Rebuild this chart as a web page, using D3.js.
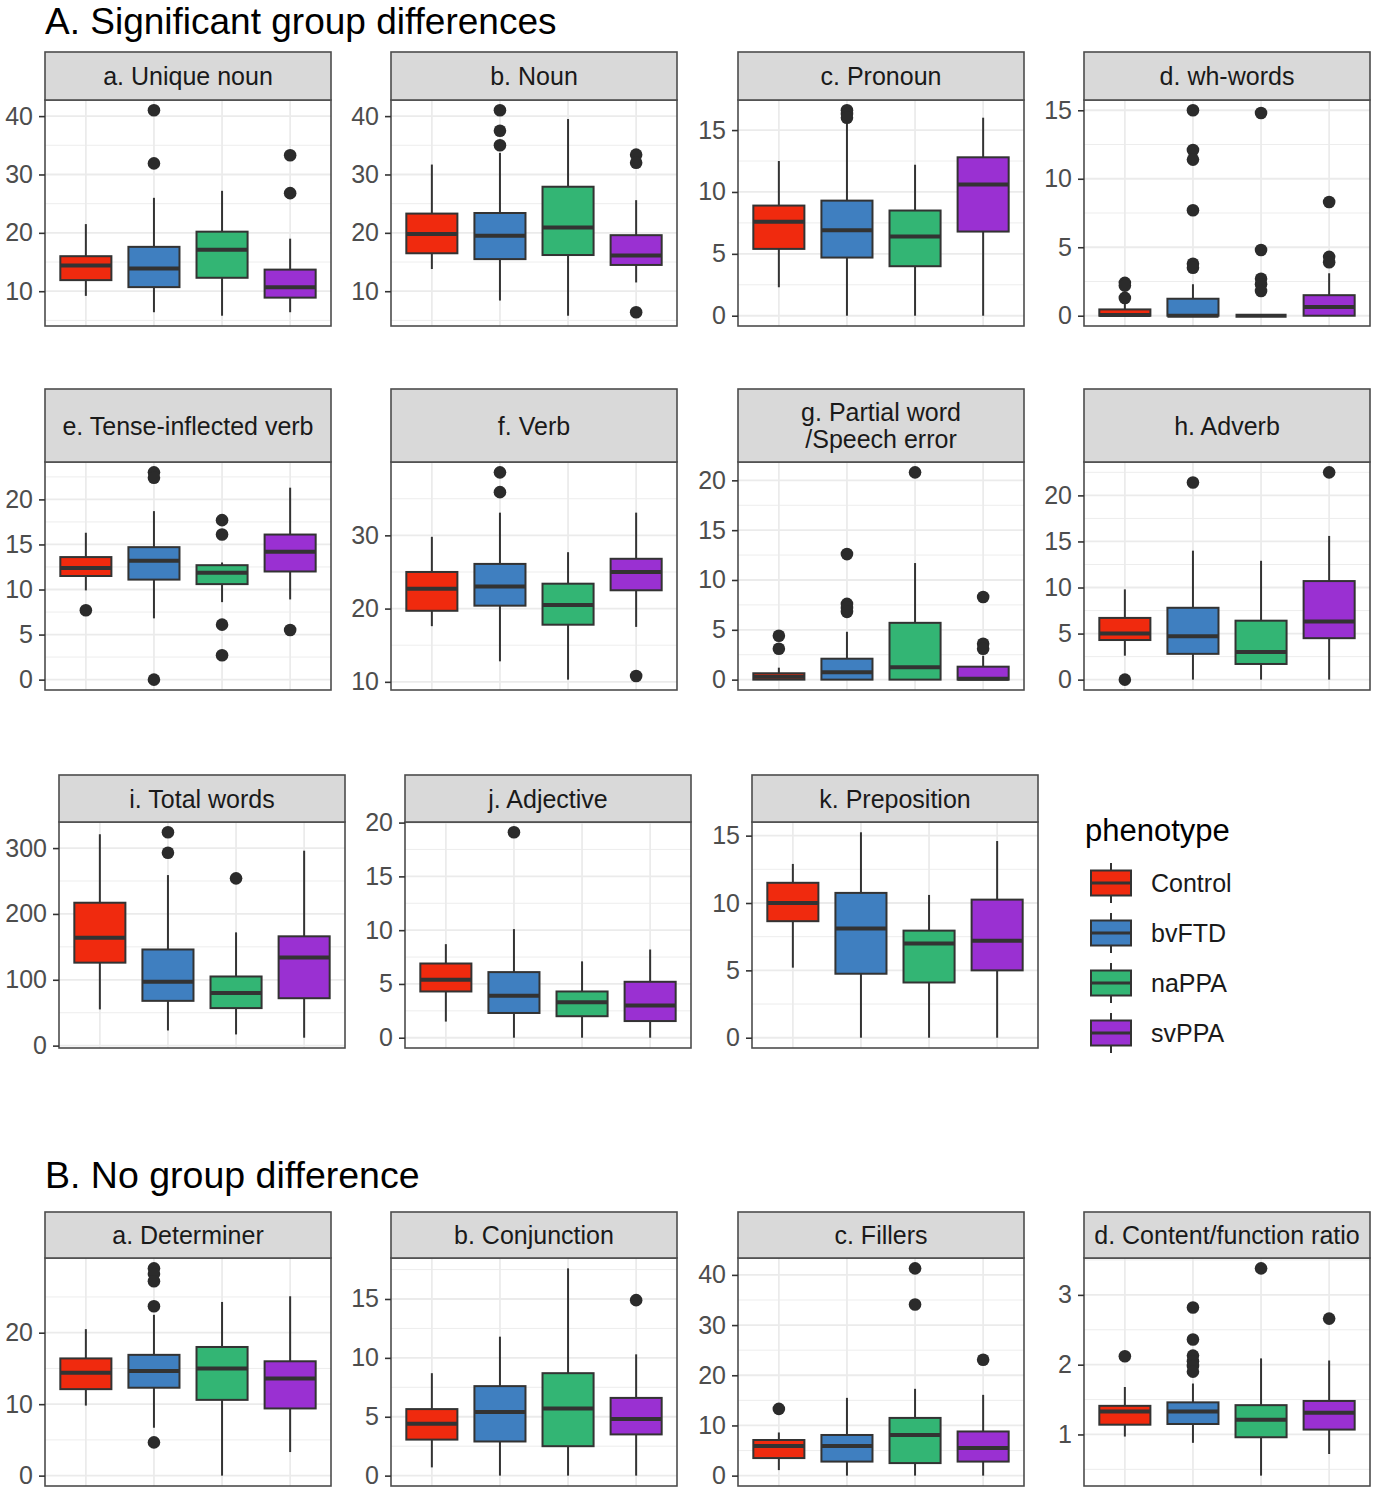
<!DOCTYPE html>
<html><head><meta charset="utf-8">
<script src="https://cdn.jsdelivr.net/npm/d3@7"></script>
<style>
body{margin:0;background:#fff;}
text{font-family:"Liberation Sans", Arial, Helvetica, sans-serif;}
</style>
</head><body>
<svg id="chart" width="1387" height="1500"></svg>
<script>
// ---------- DATA ----------
const groups = ["Control", "bvFTD", "naPPA", "svPPA"];
const groupColors = ["#f02a0e", "#3f7fc0", "#33b574", "#9a30d2"];
const sectionTitles = ["A. Significant group differences", "B. No group difference"];
const legendTitle = "phenotype";

// five-number boxes per group: [lower whisker, Q1, median, Q3, upper whisker]
const uniqueNounBox = [[9.2, 11.9, 14.4, 16.0, 21.5], [6.4, 10.7, 13.9, 17.6, 26.0], [5.8, 12.3, 17.1, 20.2, 27.2], [6.4, 8.9, 10.7, 13.7, 19.0]];
const uniqueNounOut = [[], [41.0, 31.9], [], [33.3, 26.8]];
const uniqueNounTicks = [10, 20, 30, 40];

const nounBox = [[13.8, 16.5, 19.8, 23.3, 31.7], [8.4, 15.5, 19.5, 23.4, 33.7], [5.8, 16.2, 20.9, 27.9, 39.5], [11.5, 14.5, 16.1, 19.6, 25.6]];
const nounOut = [[], [41.0, 37.5, 35.0], [], [33.4, 32.0, 6.4]];
const nounTicks = [10, 20, 30, 40];

const pronounBox = [[2.3, 5.4, 7.6, 8.9, 12.5], [0, 4.7, 6.9, 9.3, 15.8], [0, 4.0, 6.4, 8.5, 12.2], [0, 6.8, 10.6, 12.8, 16.0]];
const pronounOut = [[], [16.6, 16.3, 16.0], [], []];
const pronounTicks = [0, 5, 10, 15];

const whWordsBox = [[0, 0, 0.05, 0.46, 1.0], [0, 0, 0, 1.24, 2.3], [0, 0, 0, 0, 0], [0, 0, 0.63, 1.5, 3.1]];
const whWordsOut = [[2.4, 2.2, 1.3], [15.0, 12.1, 11.4, 7.7, 3.8, 3.5], [14.8, 4.8, 2.7, 2.3, 1.8], [8.3, 4.3, 3.9]];
const whWordsTicks = [0, 5, 10, 15];

const tenseVerbBox = [[9.9, 11.5, 12.4, 13.6, 16.3], [6.8, 11.1, 13.2, 14.7, 18.7], [8.6, 10.6, 11.85, 12.7, 13.0], [8.9, 12.0, 14.2, 16.1, 21.3]];
const tenseVerbOut = [[7.7], [23.0, 22.4, 0], [17.7, 16.1, 6.1, 2.7], [5.5]];
const tenseVerbTicks = [0, 5, 10, 15, 20];

const verbBox = [[17.6, 19.7, 22.7, 25.0, 29.8], [12.8, 20.4, 23.0, 26.1, 33.1], [10.3, 17.8, 20.5, 23.4, 27.7], [17.5, 22.5, 25.0, 26.8, 33.1]];
const verbOut = [[], [38.6, 35.9], [], [10.8]];
const verbTicks = [10, 20, 30];

const partialWordBox = [[0, 0, 0.3, 0.64, 1.2], [0, 0, 0.74, 2.1, 4.8], [0, 0, 1.25, 5.7, 11.7], [0, 0, 0.1, 1.3, 2.4]];
const partialWordOut = [[4.4, 3.1], [12.6, 7.6, 7.2, 6.8], [20.8], [8.3, 3.6, 3.1]];
const partialWordTicks = [0, 5, 10, 15, 20];

const adverbBox = [[2.6, 4.3, 5.0, 6.7, 9.8], [0, 2.8, 4.7, 7.8, 14.0], [0, 1.7, 3.0, 6.4, 12.9], [0, 4.5, 6.3, 10.7, 15.6]];
const adverbOut = [[0], [21.4], [], [22.5]];
const adverbTicks = [0, 5, 10, 15, 20];

const totalWordsBox = [[55, 126, 164, 217, 321], [23, 68, 97, 146, 259], [17, 57, 80, 105, 172], [12, 72, 134, 166, 296]];
const totalWordsOut = [[], [324, 293], [254], []];
const totalWordsTicks = [0, 100, 200, 300];

const adjectiveBox = [[1.5, 4.3, 5.4, 6.9, 8.7], [0, 2.3, 3.9, 6.1, 10.1], [0, 2.0, 3.3, 4.3, 7.1], [0, 1.55, 3.0, 5.2, 8.2]];
const adjectiveOut = [[], [19.1], [], []];
const adjectiveTicks = [0, 5, 10, 15, 20];

const prepositionBox = [[5.2, 8.65, 10.0, 11.5, 12.9], [0, 4.75, 8.1, 10.75, 15.25], [0, 4.1, 7.0, 7.95, 10.6], [0, 5.0, 7.2, 10.25, 14.6]];
const prepositionOut = [[], [], [], []];
const prepositionTicks = [0, 5, 10, 15];

const determinerBox = [[9.8, 12.1, 14.4, 16.4, 20.5], [6.7, 12.3, 14.65, 16.9, 22.5], [0, 10.6, 15.0, 18.0, 24.3], [3.3, 9.4, 13.6, 16.0, 25.1]];
const determinerOut = [[], [29.0, 28.2, 27.2, 23.7, 4.65], [], []];
const determinerTicks = [0, 10, 20];

const conjunctionBox = [[0.7, 3.06, 4.4, 5.65, 8.7], [0, 2.9, 5.4, 7.6, 11.8], [0, 2.5, 5.7, 8.7, 17.6], [0, 3.5, 4.8, 6.6, 10.3]];
const conjunctionOut = [[], [], [], [14.9]];
const conjunctionTicks = [0, 5, 10, 15];

const fillersBox = [[1.1, 3.5, 5.9, 7.1, 8.6], [0, 2.8, 5.9, 8.1, 15.5], [0, 2.5, 8.1, 11.5, 17.3], [0, 2.8, 5.5, 8.8, 16.1]];
const fillersOut = [[13.3], [], [41.3, 34.1], [23.1]];
const fillersTicks = [0, 10, 20, 30, 40];

const ratioBox = [[0.97, 1.14, 1.33, 1.41, 1.68], [0.88, 1.15, 1.33, 1.46, 1.73], [0.41, 0.96, 1.21, 1.42, 2.09], [0.72, 1.07, 1.31, 1.48, 2.06]];
const ratioOut = [[2.12], [2.82, 2.36, 2.13, 2.05, 1.98, 1.90], [3.38], [2.66]];
const ratioTicks = [1, 2, 3];

// ---------- PANEL TABLE (built from the arrays) ----------
const rows = [
  [
    {title: ["a. Unique noun"], box: uniqueNounBox, out: uniqueNounOut, ticks: uniqueNounTicks},
    {title: ["b. Noun"], box: nounBox, out: nounOut, ticks: nounTicks},
    {title: ["c. Pronoun"], box: pronounBox, out: pronounOut, ticks: pronounTicks},
    {title: ["d. wh-words"], box: whWordsBox, out: whWordsOut, ticks: whWordsTicks}
  ],
  [
    {title: ["e. Tense-inflected verb"], box: tenseVerbBox, out: tenseVerbOut, ticks: tenseVerbTicks},
    {title: ["f. Verb"], box: verbBox, out: verbOut, ticks: verbTicks},
    {title: ["g. Partial word", "/Speech error"], box: partialWordBox, out: partialWordOut, ticks: partialWordTicks},
    {title: ["h. Adverb"], box: adverbBox, out: adverbOut, ticks: adverbTicks}
  ],
  [
    {title: ["i. Total words"], box: totalWordsBox, out: totalWordsOut, ticks: totalWordsTicks},
    {title: ["j. Adjective"], box: adjectiveBox, out: adjectiveOut, ticks: adjectiveTicks},
    {title: ["k. Preposition"], box: prepositionBox, out: prepositionOut, ticks: prepositionTicks}
  ],
  [
    {title: ["a. Determiner"], box: determinerBox, out: determinerOut, ticks: determinerTicks},
    {title: ["b. Conjunction"], box: conjunctionBox, out: conjunctionOut, ticks: conjunctionTicks},
    {title: ["c. Fillers"], box: fillersBox, out: fillersOut, ticks: fillersTicks},
    {title: ["d. Content/function ratio"], box: ratioBox, out: ratioOut, ticks: ratioTicks}
  ]
];

// ---------- LAYOUT ----------
const svg = d3.select("#chart");
const PW = 286;
const rowLayout = [
  {stripTop: 52, stripH: 48, bottom: 326, lefts: [45, 391, 738, 1084]},
  {stripTop: 389, stripH: 73, bottom: 690, lefts: [45, 391, 738, 1084]},
  {stripTop: 775, stripH: 47, bottom: 1048, lefts: [59, 405, 752]},
  {stripTop: 1212, stripH: 46, bottom: 1486, lefts: [45, 391, 738, 1084]}
];
const color = d3.scaleOrdinal().domain(groups).range(groupColors);
const DARK = "#333333";
const GRID = "#ebebeb";

svg.append("rect").attr("width", 1387).attr("height", 1500).attr("fill", "#fff");

svg.append("text").attr("x", 45).attr("y", 34).attr("font-size", 37).attr("fill", "#000").text(sectionTitles[0]);
svg.append("text").attr("x", 45).attr("y", 1188).attr("font-size", 37.5).attr("fill", "#000").text(sectionTitles[1]);

function drawPanel(p, x0, L) {
  const top = L.stripTop + L.stripH, bottom = L.bottom;
  const g = svg.append("g");
  const all = p.box.flat().concat(p.out.flat());
  const [mn, mx] = d3.extent(all);
  const pad = (mx - mn) * 0.05;
  const y = d3.scaleLinear().domain([mn - pad, mx + pad]).range([bottom, top]);
  const x = d3.scalePoint().domain(groups).range([x0, x0 + PW]).padding(0.6);
  const bw = x.step() * 0.75;

  // minor grid
  const st = p.ticks[1] - p.ticks[0];
  const ext = [p.ticks[0] - st].concat(p.ticks, [p.ticks[p.ticks.length - 1] + st]);
  const minors = d3.pairs(ext).map(([a, b]) => (a + b) / 2).filter(v => v >= y.domain()[0] && v <= y.domain()[1]);
  g.selectAll(".minor").data(minors).join("line")
    .attr("x1", x0).attr("x2", x0 + PW).attr("y1", d => y(d)).attr("y2", d => y(d))
    .attr("stroke", GRID).attr("stroke-width", 0.9);
  g.selectAll(".major").data(p.ticks).join("line")
    .attr("x1", x0).attr("x2", x0 + PW).attr("y1", d => y(d)).attr("y2", d => y(d))
    .attr("stroke", GRID).attr("stroke-width", 1.8);
  g.selectAll(".vmajor").data(groups).join("line")
    .attr("x1", d => x(d)).attr("x2", d => x(d)).attr("y1", top).attr("y2", bottom)
    .attr("stroke", GRID).attr("stroke-width", 1.8);

  const bx = groups.map((k, i) => ({k, s: p.box[i], o: p.out[i]}));
  // whiskers
  const wg = g.selectAll(".wh").data(bx).join("g");
  wg.append("line").attr("x1", d => x(d.k)).attr("x2", d => x(d.k))
    .attr("y1", d => y(d.s[0])).attr("y2", d => y(d.s[1])).attr("stroke", DARK).attr("stroke-width", 2);
  wg.append("line").attr("x1", d => x(d.k)).attr("x2", d => x(d.k))
    .attr("y1", d => y(d.s[3])).attr("y2", d => y(d.s[4])).attr("stroke", DARK).attr("stroke-width", 2);
  // boxes
  g.selectAll(".bx").data(bx).join("rect")
    .attr("x", d => x(d.k) - bw / 2).attr("width", bw)
    .attr("y", d => y(d.s[3])).attr("height", d => Math.max(0, y(d.s[1]) - y(d.s[3])))
    .attr("fill", d => color(d.k)).attr("stroke", DARK).attr("stroke-width", 2);
  // medians
  g.selectAll(".md").data(bx).join("line")
    .attr("x1", d => x(d.k) - bw / 2).attr("x2", d => x(d.k) + bw / 2)
    .attr("y1", d => y(d.s[2])).attr("y2", d => y(d.s[2]))
    .attr("stroke", DARK).attr("stroke-width", 4);
  // outliers
  const pts = bx.flatMap(d => d.o.map(v => ({k: d.k, v})));
  g.selectAll(".pt").data(pts).join("circle")
    .attr("cx", d => x(d.k)).attr("cy", d => y(d.v)).attr("r", 6.3).attr("fill", "#2b2b2b");

  // panel border
  g.append("rect").attr("x", x0).attr("y", top).attr("width", PW).attr("height", bottom - top)
    .attr("fill", "none").attr("stroke", "#4d4d4d").attr("stroke-width", 1.6);
  // strip
  g.append("rect").attr("x", x0).attr("y", L.stripTop).attr("width", PW).attr("height", L.stripH)
    .attr("fill", "#d9d9d9").attr("stroke", "#4d4d4d").attr("stroke-width", 1.6);
  const cy = L.stripTop + L.stripH / 2;
  const n = p.title.length, lh = 27;
  p.title.forEach((t, i) => {
    g.append("text").attr("x", x0 + PW / 2).attr("y", cy + (i - (n - 1) / 2) * lh)
      .attr("dy", "0.36em").attr("text-anchor", "middle").attr("font-size", 25).attr("fill", "#1a1a1a").text(t);
  });
  // axis
  const ax = g.append("g").attr("transform", `translate(${x0},0)`)
    .call(d3.axisLeft(y).tickValues(p.ticks).tickSize(6).tickPadding(6).tickFormat(d3.format("~g")));
  ax.select(".domain").remove();
  ax.selectAll(".tick line").attr("stroke", DARK).attr("stroke-width", 1.6);
  ax.selectAll(".tick text").attr("font-size", 25).attr("fill", "#4d4d4d")
    .style("font-family", '"Liberation Sans", Arial, sans-serif');
}

rows.forEach((r, ri) => r.forEach((p, ci) => drawPanel(p, rowLayout[ri].lefts[ci], rowLayout[ri])));

// ---------- LEGEND ----------
const lg = svg.append("g");
lg.append("text").attr("x", 1085).attr("y", 841).attr("font-size", 31).attr("fill", "#000").text(legendTitle);
const keyTop = d3.scaleBand().domain(groups).range([858, 1058]);
groups.forEach(k => {
  const t = keyTop(k), h = keyTop.bandwidth();
  const cx = 1111, w = 40;
  lg.append("line").attr("x1", cx).attr("x2", cx).attr("y1", t + 0.1 * h).attr("y2", t + 0.9 * h)
    .attr("stroke", DARK).attr("stroke-width", 2);
  lg.append("rect").attr("x", cx - w / 2).attr("width", w).attr("y", t + 0.25 * h).attr("height", 0.5 * h)
    .attr("fill", color(k)).attr("stroke", DARK).attr("stroke-width", 2);
  lg.append("line").attr("x1", cx - w / 2).attr("x2", cx + w / 2).attr("y1", t + 0.5 * h).attr("y2", t + 0.5 * h)
    .attr("stroke", DARK).attr("stroke-width", 3);
  lg.append("text").attr("x", 1151).attr("y", t + 0.5 * h).attr("dy", "0.36em")
    .attr("font-size", 25).attr("fill", "#1a1a1a").text(k);
});
</script>
</body></html>
